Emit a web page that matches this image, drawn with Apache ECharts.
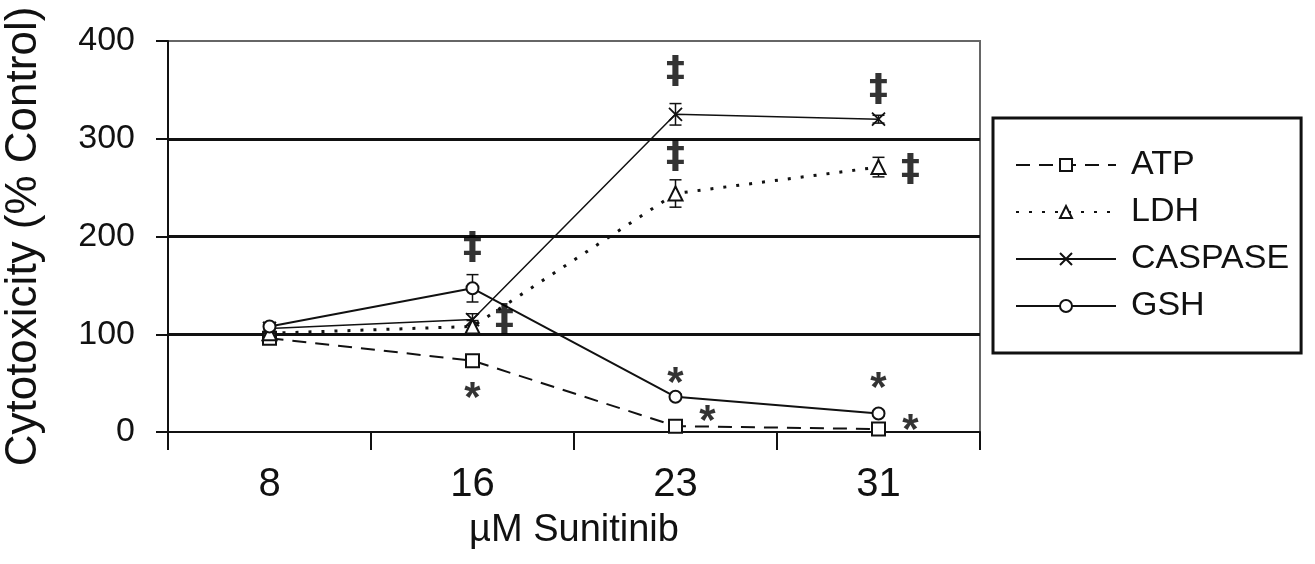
<!DOCTYPE html>
<html>
<head>
<meta charset="utf-8">
<script src="https://cdn.jsdelivr.net/npm/echarts@6/dist/echarts.min.js"></script>
<style>
html,body{margin:0;padding:0;background:#fff;}
#chart{width:1315px;height:564px;}
</style>
</head>
<body>
<div id="chart"></div>
<script>
// ---- data ----
var categories = ['8', '16', '23', '31'];
var atp     = [96, 73, 6, 3];
var ldh     = [101, 108, 244, 271];
var caspase = [106, 115, 325, 320];
var gsh     = [108, 147, 36, 19];
var atpErr     = [4, 4, 2, 2];
var ldhErr     = [4, 6, 14, 10];
var caspaseErr = [4, 6, 11, 4];
var gshErr     = [4, 14, 3, 3];
var yTicks = [0, 100, 200, 300, 400];
// significance marks: [category index, value, side]
var daggerMarks = [[1, 190, 'c'], [1, 117, 'r'], [2, 370, 'c'], [2, 283, 'c'], [3, 352, 'c'], [3, 270, 'r']];
var starMarks   = [[1, 43, 'c'], [2, 58, 'c'], [2, 19, 'r'], [3, 53, 'c'], [3, 10, 'r']];

var FONT = "'Liberation Sans', Arial, sans-serif";
var INK = '#111';

function errData(vals, errs) {
  return vals.map(function (v, i) { return [i, v - errs[i], v + errs[i]]; });
}
function errSeries(vals, errs) {
  return {
    type: 'custom', silent: true, z: 1,
    renderItem: function (params, api) {
      var lo = api.coord([api.value(0), api.value(1)]);
      var hi = api.coord([api.value(0), api.value(2)]);
      var w = 6;
      var st = { stroke: INK, lineWidth: 1.5 };
      return { type: 'group', children: [
        { type: 'line', shape: { x1: lo[0], y1: lo[1], x2: hi[0], y2: hi[1] }, style: st },
        { type: 'line', shape: { x1: lo[0] - w, y1: lo[1], x2: lo[0] + w, y2: lo[1] }, style: st },
        { type: 'line', shape: { x1: hi[0] - w, y1: hi[1], x2: hi[0] + w, y2: hi[1] }, style: st }
      ]};
    },
    data: errData(vals, errs)
  };
}
function markSeries(marks, text, dy, family, size) {
  return {
    type: 'scatter', silent: true, symbolSize: 0, z: 5,
    data: marks.map(function (m) {
      return {
        value: [m[0], m[1]],
        label: { offset: [m[2] === 'r' ? 32 : 0, dy] }
      };
    }),
    label: {
      show: true, position: 'inside', formatter: text,
      color: '#000', fontFamily: family, fontWeight: 'bold', fontSize: size
    }
  };
}

var chart = echarts.init(document.getElementById('chart'));
chart.setOption({
  animation: false,
  backgroundColor: '#fff',
  grid: {
    left: 168, right: 335, top: 41, bottom: 132,
    containLabel: false, outerBoundsMode: 'none',
    show: true, borderColor: '#666', borderWidth: 2, backgroundColor: 'transparent'
  },
  legend: {
    orient: 'vertical',
    left: 993, top: 118,
    data: ['ATP', 'LDH', 'CASPASE', 'GSH'],
    itemWidth: 100, itemHeight: 15, itemGap: 13,
    padding: [30, 12, 30, 22],
    borderColor: INK, borderWidth: 3,
    selectedMode: false,
    textStyle: { fontFamily: FONT, fontSize: 34, color: INK, padding: [0, 0, 0, 10] }
  },
  xAxis: {
    type: 'category', data: categories, boundaryGap: true,
    name: 'µM Sunitinib', nameLocation: 'middle', nameGap: 80, nameMoveOverlap: false,
    nameTextStyle: { fontFamily: FONT, fontSize: 38, color: INK },
    axisLine: { show: true, lineStyle: { color: INK, width: 2 } },
    axisTick: { show: true, length: 18, lineStyle: { color: INK, width: 2 } },
    axisLabel: { fontFamily: FONT, fontSize: 40, color: INK, margin: 33 },
    splitLine: { show: false }
  },
  yAxis: {
    type: 'value', min: yTicks[0], max: yTicks[yTicks.length - 1], interval: 100,
    name: 'Cytotoxicity (% Control)', nameLocation: 'middle', nameGap: 122, nameMoveOverlap: false,
    nameTextStyle: { fontFamily: FONT, fontSize: 44, color: INK },
    axisLine: { show: true, lineStyle: { color: INK, width: 2 } },
    axisTick: { show: true, length: 12, lineStyle: { color: INK, width: 2 } },
    axisLabel: { fontFamily: FONT, fontSize: 34, color: INK, margin: 33 },
    splitLine: { show: true, showMinLine: false, showMaxLine: false, lineStyle: { color: INK, width: 3 } }
  },
  series: [
    errSeries(atp, atpErr),
    errSeries(ldh, ldhErr),
    errSeries(caspase, caspaseErr),
    errSeries(gsh, gshErr),
    {
      name: 'ATP', type: 'line', data: atp, z: 3,
      symbol: 'emptyRect', symbolSize: 13,
      lineStyle: { color: INK, width: 2, type: [14, 9] },
      itemStyle: { color: INK, borderWidth: 1.8 }
    },
    {
      name: 'LDH', type: 'line', data: ldh, z: 3,
      symbol: 'emptyTriangle', symbolSize: 14,
      lineStyle: { color: INK, width: 3, type: [3, 10] },
      itemStyle: { color: INK, borderWidth: 1.8 }
    },
    {
      name: 'CASPASE', type: 'line', data: caspase, z: 3,
      symbol: 'path://M0,0L10,10M10,0L0,10', symbolSize: 13,
      lineStyle: { color: INK, width: 1.5 },
      itemStyle: { color: INK, borderColor: INK, borderWidth: 1.8 }
    },
    {
      name: 'GSH', type: 'line', data: gsh, z: 3,
      symbol: 'emptyCircle', symbolSize: 12,
      lineStyle: { color: INK, width: 2 },
      itemStyle: { color: INK, borderWidth: 1.8 }
    },
    markSeries(daggerMarks, '‡', 2, "'DejaVu Sans', sans-serif", 38),
    markSeries(starMarks, '*', 9, FONT, 42)
  ]
});
</script>
</body>
</html>
